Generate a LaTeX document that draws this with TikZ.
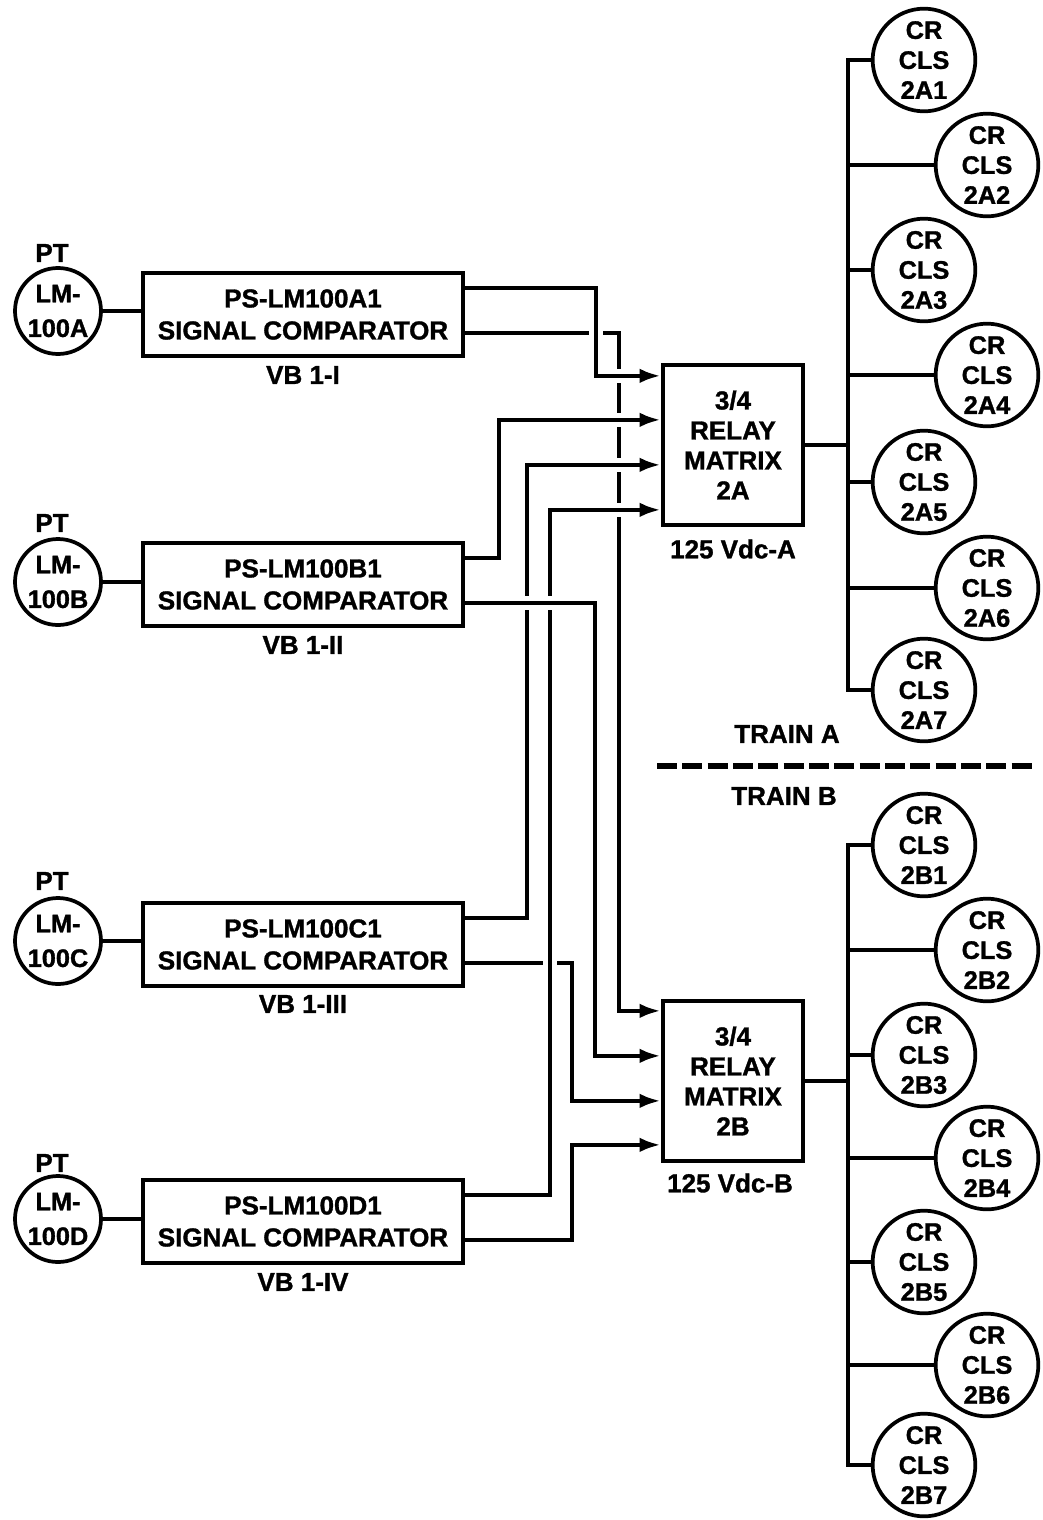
\documentclass[tikz,border=0pt]{standalone}
\usepackage{fontspec}
\setmainfont{Liberation Sans}[BoldFeatures={FakeBold=1.2}]
\usetikzlibrary{calc,arrows.meta}
\pgfdeclarelayer{bg}
\pgfsetlayers{bg,main}
\tikzset{
  wire/.style={line width=3.2pt, line join=miter},
  halo/.style={preaction={draw=white,line width=10pt,-}},
  arr/.style={-{Latex[length=16pt,width=11pt]}},
  big/.style={font=\fontsize{19.5}{24}\selectfont\bfseries},
  comp/.style={draw,line width=3.2pt,minimum width=240pt,minimum height=62pt,inner sep=0pt,align=center,big},
  relay/.style={draw,line width=3.2pt,minimum width=105pt,minimum height=120pt,inner sep=0pt,align=center,font=\fontsize{19.5}{22.5}\selectfont\bfseries},
  lm/.style={circle,draw,line width=2.8pt,minimum size=64.5pt,inner sep=0pt,align=center,font=\fontsize{19}{26}\selectfont\bfseries},
  cr/.style={circle,draw,line width=2.8pt,minimum size=77pt,inner sep=0pt,align=center,font=\fontsize{19}{22.5}\selectfont\bfseries},
  lbl/.style={big,inner sep=0pt},
}
\begin{document}
\begin{tikzpicture}[x=0.75pt,y=-0.75pt]
\useasboundingbox (0,0) rectangle (1042,1520);
% ---- comparators
\node[comp] (cA) at (303,314.5) {PS-LM100A1\\SIGNAL COMPARATOR};
\node[comp] (cB) at (303,584.5) {PS-LM100B1\\SIGNAL COMPARATOR};
\node[comp] (cC) at (303,944.5) {PS-LM100C1\\SIGNAL COMPARATOR};
\node[comp] (cD) at (303,1221.5) {PS-LM100D1\\SIGNAL COMPARATOR};
% ---- transmitters
\node[lm] (lA) at (58,311) {LM-\\100A};
\node[lm] (lB) at (58,582) {LM-\\100B};
\node[lm] (lC) at (58,941) {LM-\\100C};
\node[lm] (lD) at (58,1219) {LM-\\100D};
\node[lbl] (ptA) at (52,253) {PT};
\node[lbl] (ptB) at (52,523) {PT};
\node[lbl] (ptC) at (52,881) {PT};
\node[lbl] (ptD) at (52,1163) {PT};
\node[lbl] (vbA) at (303,375) {VB 1-I};
\node[lbl] (vbB) at (303,645) {VB 1-II};
\node[lbl] (vbC) at (303,1004) {VB 1-III};
\node[lbl] (vbD) at (303,1282) {VB 1-IV};
% ---- relay matrices
\node[relay] (rA) at (733,445) {3/4\\RELAY\\MATRIX\\2A};
\node[relay] (rB) at (733,1081) {3/4\\RELAY\\MATRIX\\2B};
\node[lbl] (vA) at (733,549) {125 Vdc-A};
\node[lbl] (vB) at (730,1183) {125 Vdc-B};
% ---- contactor circles, train A
\node[cr] (a1) at (924,60) {CR\\CLS\\2A1};
\node[cr] (a2) at (987,165) {CR\\CLS\\2A2};
\node[cr] (a3) at (924,270) {CR\\CLS\\2A3};
\node[cr] (a4) at (987,375) {CR\\CLS\\2A4};
\node[cr] (a5) at (924,482) {CR\\CLS\\2A5};
\node[cr] (a6) at (987,588) {CR\\CLS\\2A6};
\node[cr] (a7) at (924,690) {CR\\CLS\\2A7};
% ---- contactor circles, train B
\node[cr] (b1) at (924,845) {CR\\CLS\\2B1};
\node[cr] (b2) at (987,950) {CR\\CLS\\2B2};
\node[cr] (b3) at (924,1055) {CR\\CLS\\2B3};
\node[cr] (b4) at (987,1158) {CR\\CLS\\2B4};
\node[cr] (b5) at (924,1262) {CR\\CLS\\2B5};
\node[cr] (b6) at (987,1365) {CR\\CLS\\2B6};
\node[cr] (b7) at (924,1465) {CR\\CLS\\2B7};
% ---- train separator
\node[lbl] (trA) at (787,734) {TRAIN A};
\node[lbl] (trB) at (784,796) {TRAIN B};
\coordinate (sepL) at (657,766);
\coordinate (sepR) at (1034,766);
\draw[line width=3.8pt,dash pattern=on 15pt off 4pt] (sepL) -- (sepR);
% ---- bus coordinates
\coordinate (busAt) at (848,60);
\coordinate (busAb) at (848,690);
\coordinate (busBt) at (848,845);
\coordinate (busBb) at (848,1465);
\begin{pgfonlayer}{bg}
% transmitter to comparator
\draw[wire] (lA.east) -- (lA.east -| cA.west);
\draw[wire] (lB.east) -- (lB.east -| cB.west);
\draw[wire] (lC.east) -- (lC.east -| cC.west);
\draw[wire] (lD.east) -- (lD.east -| cD.west);
% comparator outputs to relay matrices (drawing order gives the crossings)
\draw[wire,halo,arr] ($(cA.north east)+(0,62)$) -- ++(154,0) |- ($(rB.north west)+(0,12)$);
\draw[wire,halo,arr] ($(cC.north east)+(0,62)$) -- ++(107,0) |- ($(rB.north west)+(0,102)$);
\draw[wire,halo,arr] ($(cC.north east)+(0,17)$) -- ++(62,0) |- ($(rA.north west)+(0,102)$);
\draw[wire,halo,arr] ($(cD.north east)+(0,17)$) -- ++(85,0) |- ($(rA.north west)+(0,147)$);
\draw[wire,halo,arr] ($(cA.north east)+(0,17)$) -- ++(131,0) |- ($(rA.north west)+(0,13)$);
\draw[wire,halo,arr] ($(cB.north east)+(0,17)$) -- ++(34,0) |- ($(rA.north west)+(0,57)$);
\draw[wire,halo,arr] ($(cB.north east)+(0,62)$) -- ++(130,0) |- ($(rB.north west)+(0,57)$);
\draw[wire,halo,arr] ($(cD.north east)+(0,62)$) -- ++(107,0) |- ($(rB.north west)+(0,146)$);
% relay outputs and buses
\draw[wire] (rA.east) -- (rA.east -| busAt);
\draw[wire] (rB.east) -- (rB.east -| busBt);
\draw[wire] (a1.west) -- (busAt) -- (busAb) -- (a7.west);
\draw[wire] (b1.west) -- (busBt) -- (busBb) -- (b7.west);
\foreach \n in {a2,a3,a4,a5,a6}{\draw[wire] (\n.west) -- (\n.west -| busAt);}
\foreach \n in {b2,b3,b4,b5,b6}{\draw[wire] (\n.west) -- (\n.west -| busBt);}
\end{pgfonlayer}
\end{tikzpicture}
\end{document}
